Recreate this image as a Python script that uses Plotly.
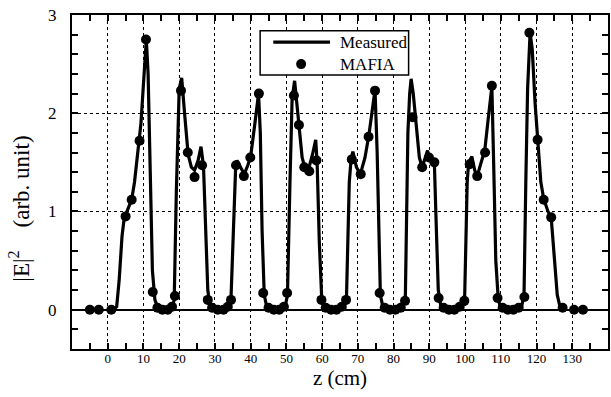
import plotly.graph_objects as go

# MAFIA simulation points
mafia_z = [-5, -2.5, 1,
           5, 6.7, 8.9, 10.7,
           12.6, 13.9, 15.3, 16.8, 18.0, 18.8,
           20.5, 22.4, 24.3, 26.4,
           28.0, 29.2, 30.8, 32.4, 33.6, 34.5,
           35.9, 38.1, 39.9, 42.3,
           43.5, 45.0, 46.5, 48.0, 49.3, 50.2,
           52.1, 53.5, 55.0, 56.4, 58.4,
           59.8, 61.0, 62.5, 64.0, 65.5, 66.7,
           68.3, 70.8, 73.0, 74.8,
           76.1, 77.5, 79.0, 80.5, 82.0, 83.2,
           85.3, 88.0, 89.9, 91.4,
           92.6, 94.0, 95.5, 97.0, 98.5, 99.8,
           101.3, 103.4, 105.6, 107.5,
           109.1, 110.5, 112.0, 113.5, 115.0, 116.6,
           118.0, 120.3, 122.0, 124.1,
           127.3, 130.5, 133.0]
mafia_e = [0.0, 0.0, 0.0,
           0.95, 1.12, 1.72, 2.75,
           0.18, 0.02, 0.0, 0.0, 0.03, 0.14,
           2.23, 1.60, 1.35, 1.47,
           0.10, 0.02, 0.0, 0.0, 0.03, 0.10,
           1.47, 1.36, 1.55, 2.20,
           0.17, 0.02, 0.0, 0.0, 0.03, 0.17,
           2.18, 1.88, 1.45, 1.41, 1.52,
           0.10, 0.02, 0.0, 0.0, 0.03, 0.10,
           1.53, 1.38, 1.76, 2.23,
           0.17, 0.02, 0.0, 0.0, 0.02, 0.09,
           1.96, 1.45, 1.55, 1.50,
           0.12, 0.02, 0.0, 0.0, 0.03, 0.09,
           1.48, 1.36, 1.60, 2.28,
           0.12, 0.02, 0.0, 0.0, 0.02, 0.13,
           2.82, 1.73, 1.12, 0.94,
           0.02, 0.0, 0.0]

# Measured field profile
meas_z = [1.5, 2.5, 3.2, 4.0, 4.6, 5.5, 6.7, 7.5, 8.5, 9.3, 10.0, 10.8, 11.3, 11.9, 12.5, 13.2, 14.0, 16.0, 18.0,
          18.6, 19.2, 20.0, 20.7, 21.5, 22.5, 23.4, 24.3, 25.3, 26.1, 26.8, 27.3, 28.0, 28.6, 30.0, 32.0, 33.8,
          34.5, 35.2, 35.8, 36.2, 37.2, 38.2, 39.2, 40.0, 41.2, 42.2, 42.7, 43.2, 43.8, 44.5, 46.0, 48.0, 49.6,
          50.3, 51.0, 51.6, 52.3, 53.0, 53.6, 54.4, 55.2, 56.2, 57.3, 58.2, 58.6, 59.2, 59.9, 60.6, 62.0, 64.0, 66.0,
          66.8, 67.6, 68.1, 68.6, 69.6, 70.7, 72.0, 73.1, 74.0, 74.8, 75.4, 75.8, 76.3, 77.0, 79.0, 81.0, 82.6,
          83.3, 84.0, 84.5, 84.9, 85.5, 86.3, 87.2, 88.0, 89.5, 90.0, 91.4, 91.9, 92.5, 93.2, 95.0, 97.0, 99.0,
          99.9, 100.6, 101.0, 101.9, 102.7, 103.4, 104.5, 105.5, 106.5, 107.5, 108.0, 108.6, 109.3, 110.0, 112.0, 114.0, 115.8,
          116.5, 117.0, 117.5, 118.2, 118.8, 119.6, 120.3, 121.2, 122.0, 123.2, 124.1, 125.0, 125.8, 126.5, 127.3, 128.0]
meas_e = [0.0, 0.03, 0.30, 0.75, 0.93, 1.02, 1.12, 1.30, 1.60, 1.90, 2.30, 2.75, 2.40, 1.40, 0.40, 0.10, 0.02, 0.0, 0.02,
          0.10, 1.20, 2.25, 2.36, 2.00, 1.58, 1.45, 1.42, 1.52, 1.66, 1.46, 0.90, 0.20, 0.04, 0.0, 0.0, 0.02,
          0.12, 0.90, 1.45, 1.52, 1.45, 1.38, 1.47, 1.56, 1.90, 2.20, 1.80, 0.80, 0.15, 0.03, 0.0, 0.0, 0.02,
          0.15, 1.30, 2.15, 2.33, 2.05, 1.85, 1.55, 1.44, 1.43, 1.58, 1.73, 1.50, 0.70, 0.10, 0.02, 0.0, 0.0, 0.02,
          0.10, 1.30, 1.53, 1.61, 1.45, 1.38, 1.55, 1.78, 2.05, 2.24, 1.60, 0.80, 0.15, 0.03, 0.0, 0.0, 0.03,
          0.15, 1.80, 2.20, 2.35, 2.20, 1.90, 1.55, 1.45, 1.62, 1.55, 1.50, 0.90, 0.20, 0.04, 0.0, 0.0, 0.03,
          0.15, 1.30, 1.50, 1.56, 1.42, 1.36, 1.50, 1.62, 1.95, 2.27, 1.50, 0.50, 0.10, 0.02, 0.0, 0.0, 0.03,
          0.15, 1.30, 2.25, 2.82, 2.65, 2.10, 1.73, 1.30, 1.13, 1.00, 0.94, 0.50, 0.15, 0.04, 0.02, 0.0]

x_tickvals = [0, 10, 20, 30, 40, 50, 60, 70, 80, 90, 100, 110, 120, 130]
x_ticktext = [str(v) for v in x_tickvals]
y_tickvals = [0, 1, 2, 3]
y_ticktext = ["0", "1", "2", "3"]
legend_labels = ["Measured", "MAFIA"]

FONT = "Liberation Serif, Times New Roman, serif"

fig = go.Figure()
fig.add_trace(go.Scatter(x=meas_z, y=meas_e, mode="lines", name=legend_labels[0],
                         line=dict(color="black", width=3.2), showlegend=False))
fig.add_trace(go.Scatter(x=mafia_z, y=mafia_e, mode="markers", name=legend_labels[1],
                         marker=dict(color="black", size=10, line=dict(width=0)), showlegend=False))

# Boxed legend in paper coordinates (like the original figure)
fig.add_shape(type="rect", xref="paper", yref="paper", x0=0.351, x1=0.628, y0=0.820, y1=0.953,
              line=dict(color="black", width=1.5), fillcolor="white", layer="above")
fig.add_shape(type="line", xref="paper", yref="paper", x0=0.3755, x1=0.4814, y0=0.919, y1=0.919,
              line=dict(color="black", width=3.2), layer="above")
fig.add_shape(type="circle", xref="paper", yref="paper", x0=0.4182, x1=0.4368, y0=0.838, y1=0.868,
              line=dict(color="black", width=0), fillcolor="black", layer="above")
fig.add_annotation(xref="paper", yref="paper", x=0.4963, y=0.886, xanchor="left", yanchor="middle",
                   text="<br>".join(legend_labels), align="left", showarrow=False,
                   font=dict(family=FONT, size=17, color="black"))

# y-axis title
fig.add_annotation(xref="paper", yref="paper", x=-0.097, y=0.42, xanchor="center", yanchor="middle",
                   text="|E|<sup>2</sup>\u00a0\u00a0\u00a0\u00a0(arb. unit)", textangle=-90, showarrow=False,
                   font=dict(family=FONT, size=23, color="black"))

fig.update_layout(
    width=611, height=397, autosize=False,
    margin=dict(l=72, r=1, t=15, b=48),
    paper_bgcolor="white", plot_bgcolor="white",
    font=dict(family=FONT, color="black"),
    showlegend=False,
)
fig.update_xaxes(
    range=[-10, 140], tickmode="array", tickvals=x_tickvals, ticktext=x_ticktext,
    ticks="inside", ticklen=6, tickwidth=1.5, tickcolor="black",
    minor=dict(dtick=5, tick0=0, ticks="inside", ticklen=6, tickwidth=1.5, tickcolor="black", showgrid=False),
    showline=True, linecolor="black", linewidth=2, mirror="allticks",
    showgrid=True, gridcolor="black", gridwidth=1, griddash="dot",
    zeroline=False,
    tickfont=dict(family=FONT, size=13, color="black"),
    ticklabelstandoff=-4,
    title=dict(text="z (cm)", font=dict(family=FONT, size=21, color="black"), standoff=6),
)
fig.update_yaxes(
    range=[-0.4, 3], tickmode="array", tickvals=y_tickvals, ticktext=y_ticktext,
    ticks="inside", ticklen=6, tickwidth=1.5, tickcolor="black",
    minor=dict(dtick=0.2, tick0=0, ticks="inside", ticklen=6, tickwidth=1.5, tickcolor="black", showgrid=False),
    showline=True, linecolor="black", linewidth=2, mirror="allticks",
    showgrid=True, gridcolor="black", gridwidth=1, griddash="dot",
    zeroline=True, zerolinecolor="black", zerolinewidth=1.5,
    tickfont=dict(family=FONT, size=17, color="black"),
    ticklabelstandoff=10,
)

fig.write_html(
    "out.html",
    config={"responsive": False, "displayModeBar": False},
    post_script="document.body.style.margin='0';document.body.style.overflow='hidden';",
)
